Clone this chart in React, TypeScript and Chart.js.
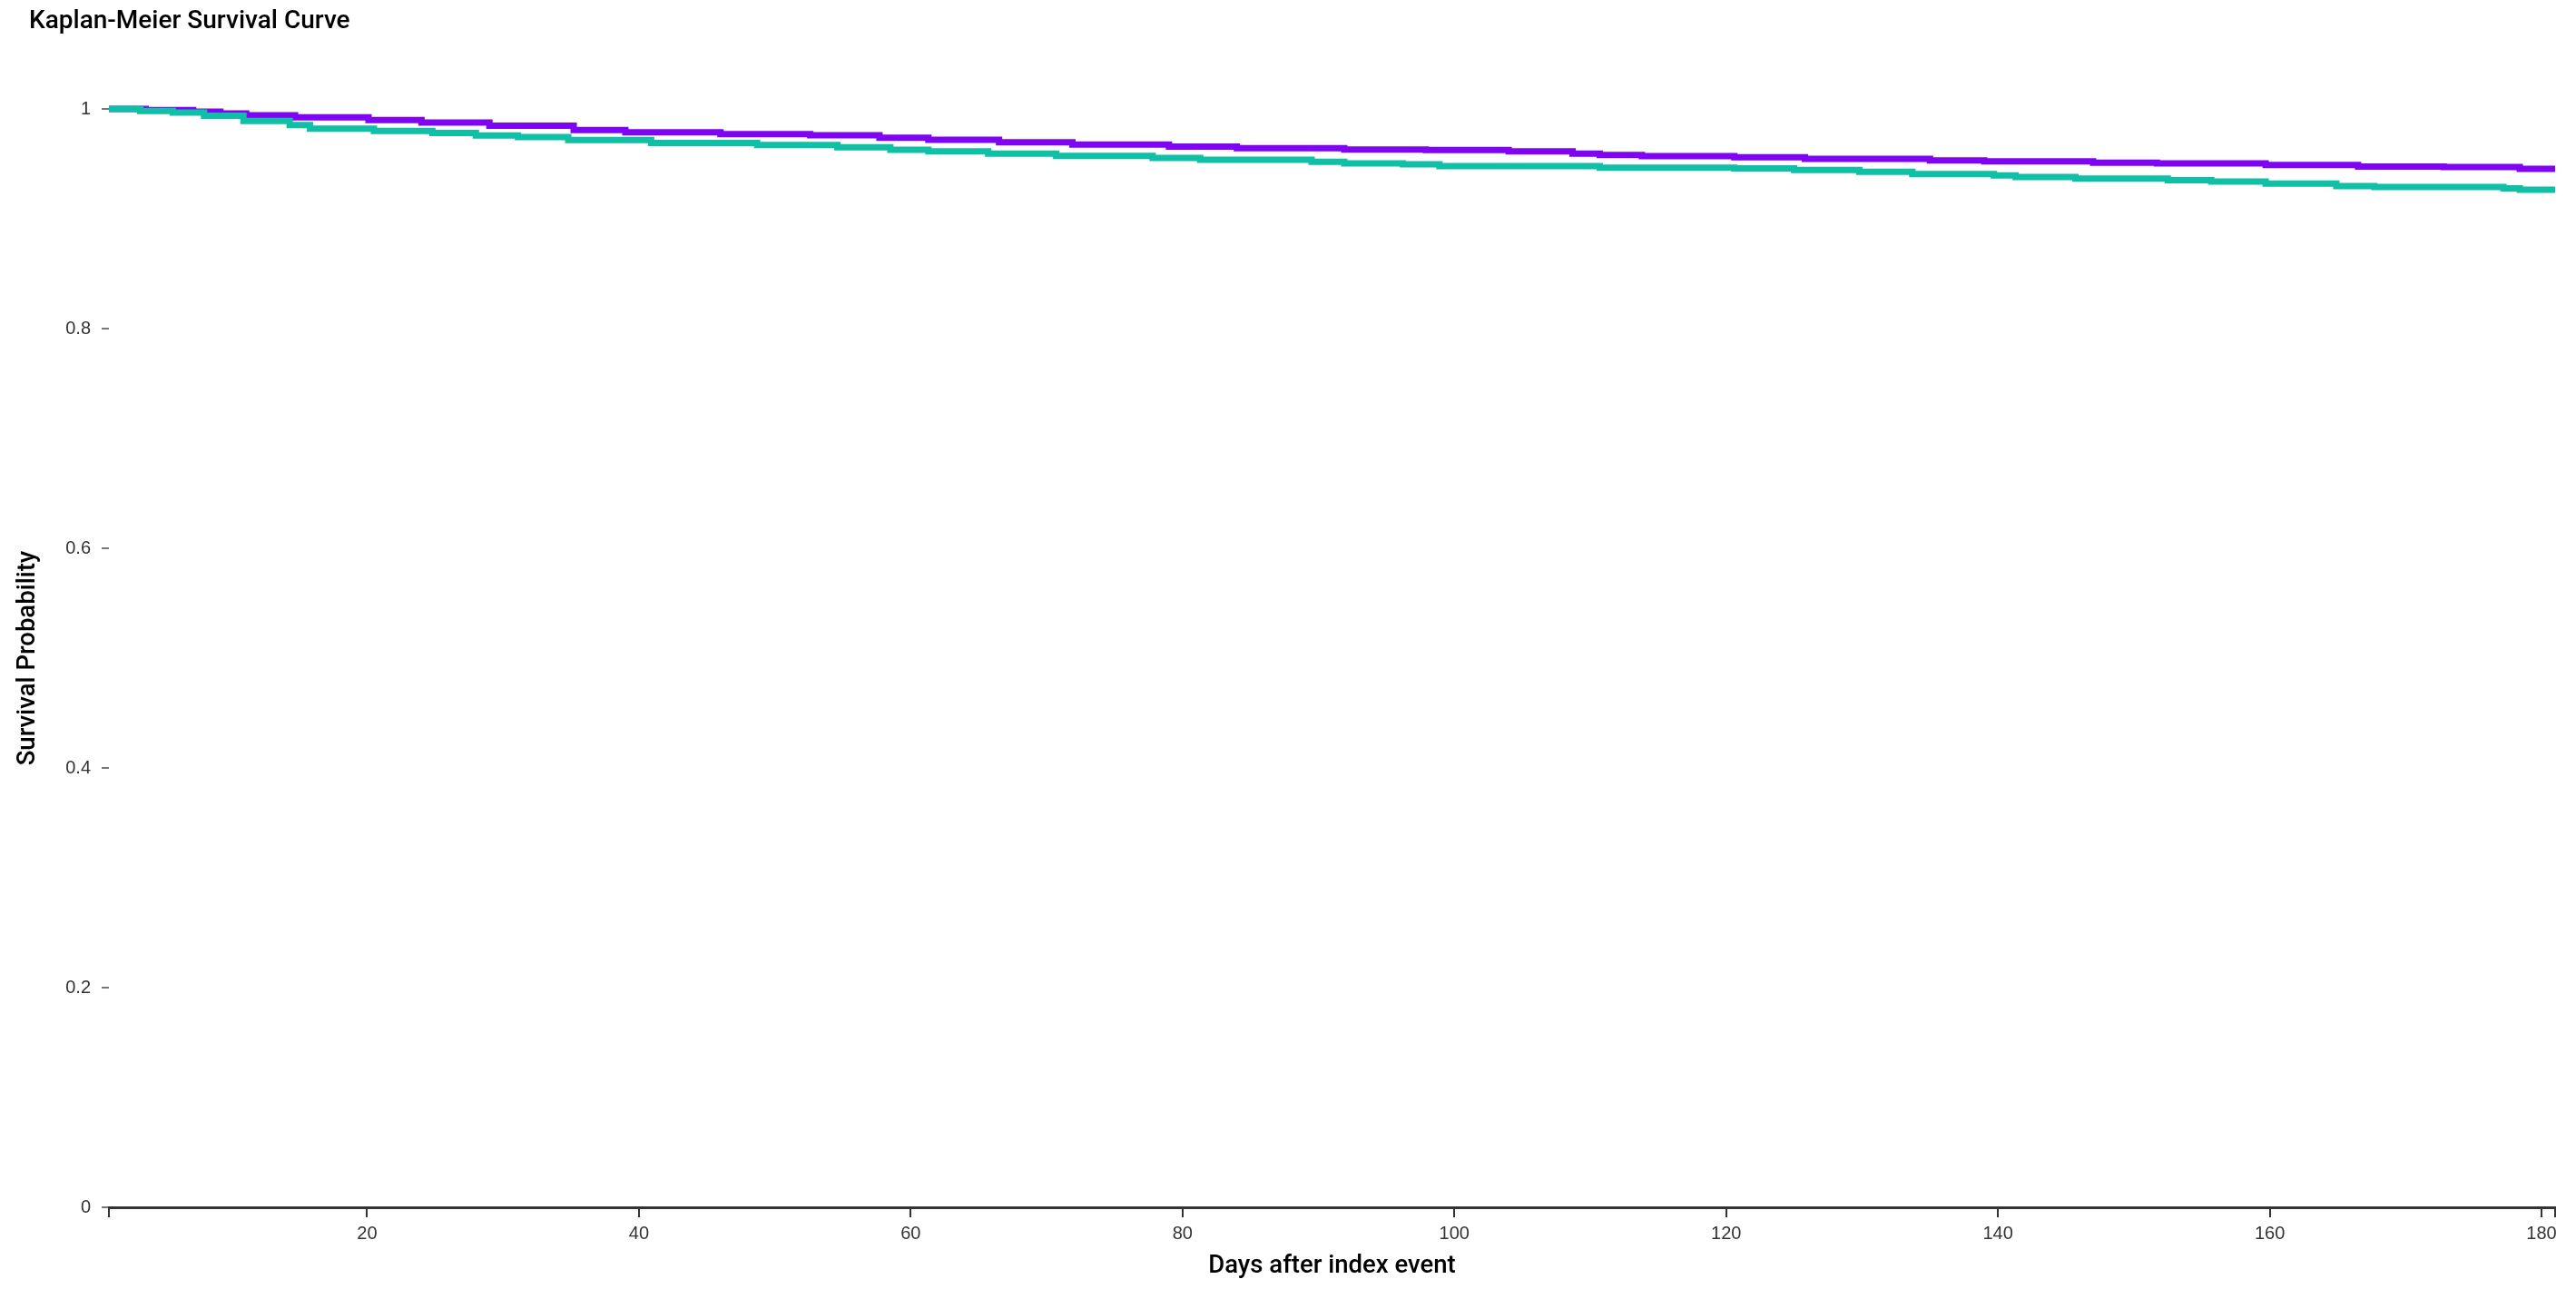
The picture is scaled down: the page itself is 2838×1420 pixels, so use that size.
import React, { useEffect, useRef } from "react";
import { Chart, registerables } from "chart.js";

Chart.register(...registerables);

// ---- data ----
const titleText = "Kaplan-Meier Survival Curve";
const xTitle = "Days after index event";
const yTitle = "Survival Probability";

const dayTicks = [20, 40, 60, 80, 100, 120, 140, 160, 180];
const yTicks = [0, 0.2, 0.4, 0.6, 0.8, 1];
const X_MIN = 1;
const X_MAX = 181;

const purpleDays = [1, 3.7, 7.2, 9.2, 11.1, 14.7, 20.1, 24, 29, 35.2, 39, 46, 52.6, 57.7, 61.3, 66.5, 71.9, 79, 84, 91.9, 97.9, 104, 108.7, 110.7, 113.8, 120.6, 125.8, 135, 139, 147, 151.7, 159.7, 166.5, 172.8, 178.4, 181];
const purpleSurv = [1, 0.9989, 0.9975, 0.9959, 0.9942, 0.9923, 0.9898, 0.9876, 0.9848, 0.9807, 0.9788, 0.9771, 0.976, 0.9738, 0.9719, 0.9697, 0.9675, 0.9656, 0.9642, 0.9631, 0.9626, 0.9614, 0.9592, 0.9581, 0.957, 0.9559, 0.9545, 0.9532, 0.9523, 0.951, 0.9504, 0.949, 0.9476, 0.9471, 0.9455, 0.9455];

const tealDays = [1, 3.3, 5.7, 8.0, 10.9, 14.3, 15.8, 20.5, 24.8, 28, 31.1, 34.8, 40.9, 48.7, 54.6, 58.5, 61.3, 65.7, 70.7, 77.8, 81.3, 89.5, 91.9, 96.2, 98.9, 110.7, 120.6, 125, 129.8, 133.7, 139.7, 141.3, 145.7, 152.5, 155.7, 159.7, 164.9, 167.7, 177.2, 178.4, 181];
const tealSurv = [1, 0.9981, 0.9967, 0.9937, 0.989, 0.9854, 0.9821, 0.9799, 0.978, 0.9758, 0.9744, 0.9716, 0.9691, 0.9672, 0.965, 0.9628, 0.9614, 0.9592, 0.9573, 0.9554, 0.9537, 0.9518, 0.9504, 0.9496, 0.9479, 0.9465, 0.9458, 0.9444, 0.9427, 0.9408, 0.9394, 0.938, 0.9366, 0.9352, 0.9339, 0.932, 0.9298, 0.9289, 0.9276, 0.9264, 0.9264];

const PURPLE = "#7f04f2";
const TEAL = "#0fbfa6";

export default function App() {
  const ref = useRef<HTMLCanvasElement>(null);

  useEffect(() => {
    if (!ref.current) return;
    const textPlugin = {
      id: "customTexts",
      afterDraw(chart: any) {
        const ctx = chart.ctx as CanvasRenderingContext2D;
        const a = chart.chartArea;
        ctx.save();
        ctx.fillStyle = "#000";
        ctx.font = "500 28px Roboto";
        ctx.textAlign = "left";
        ctx.textBaseline = "alphabetic";
        ctx.fillText(titleText, 32, 31);
        ctx.font = "500 27.5px Roboto";
        ctx.textAlign = "center";
        ctx.textBaseline = "middle";
        ctx.fillText(xTitle, (a.left + a.right) / 2, 1395);
        ctx.translate(31, (a.top + a.bottom) / 2);
        ctx.rotate(-Math.PI / 2);
        ctx.fillText(yTitle, 0, 0);
        ctx.restore();
      },
    };

    const chart = new Chart(ref.current, {
      type: "line",
      data: {
        datasets: [
          {
            label: "Group B",
            data: tealDays.map((d, i) => ({ x: d, y: tealSurv[i] })),
            borderColor: TEAL,
            backgroundColor: TEAL,
            borderWidth: 7,
            pointRadius: 0,
            stepped: true,
            tension: 0,
            fill: false,
            clip: 20,
            order: 0,
          },
          {
            label: "Group A",
            data: purpleDays.map((d, i) => ({ x: d, y: purpleSurv[i] })),
            borderColor: PURPLE,
            backgroundColor: PURPLE,
            borderWidth: 7,
            pointRadius: 0,
            stepped: true,
            tension: 0,
            fill: false,
            clip: 20,
            order: 1,
          },
        ],
      },
      options: {
        responsive: false,
        animation: false,
        devicePixelRatio: 1,
        layout: { padding: { top: 120, right: 23, left: 0, bottom: 0 } },
        plugins: {
          legend: { display: false },
          title: { display: false },
          tooltip: { enabled: false },
        },
        scales: {
          x: {
            type: "linear",
            min: X_MIN,
            max: X_MAX,
            afterBuildTicks: (scale: any) => {
              scale.ticks = [X_MIN, ...dayTicks, X_MAX].map((v) => ({ value: v }));
            },
            afterFit: (scale: any) => {
              scale.height = 90;
            },
            ticks: {
              autoSkip: false,
              maxRotation: 0,
              minRotation: 0,
              padding: 6,
              color: "#333",
              font: { family: "'Liberation Sans', Arial, sans-serif", size: 20 },
              callback: (v: any) => (dayTicks.includes(Number(v)) ? String(v) : ""),
            },
            grid: {
              display: true,
              drawOnChartArea: false,
              drawTicks: true,
              tickLength: 11,
              color: "#333",
              lineWidth: 2,
            },
            border: { display: true, color: "#333", width: 3 },
          },
          y: {
            type: "linear",
            min: 0,
            max: 1,
            afterBuildTicks: (scale: any) => {
              scale.ticks = yTicks.map((v) => ({ value: v }));
            },
            afterFit: (scale: any) => {
              scale.width = 120;
            },
            ticks: {
              padding: 12,
              color: "#333",
              font: { family: "'Liberation Sans', Arial, sans-serif", size: 20 },
              callback: (v: any) => String(v),
            },
            grid: {
              display: true,
              drawOnChartArea: false,
              drawTicks: true,
              tickLength: 8,
              color: "#777",
              lineWidth: 2,
            },
            border: { display: false },
          },
        },
      },
      plugins: [textPlugin],
    });
    return () => chart.destroy();
  }, []);

  return (
    <div style={{ position: "absolute", left: 0, top: 0, width: 2838, height: 1420, background: "#fff" }}>
      <canvas ref={ref} width={2838} height={1420} style={{ width: 2838, height: 1420, display: "block" }} />
    </div>
  );
}
